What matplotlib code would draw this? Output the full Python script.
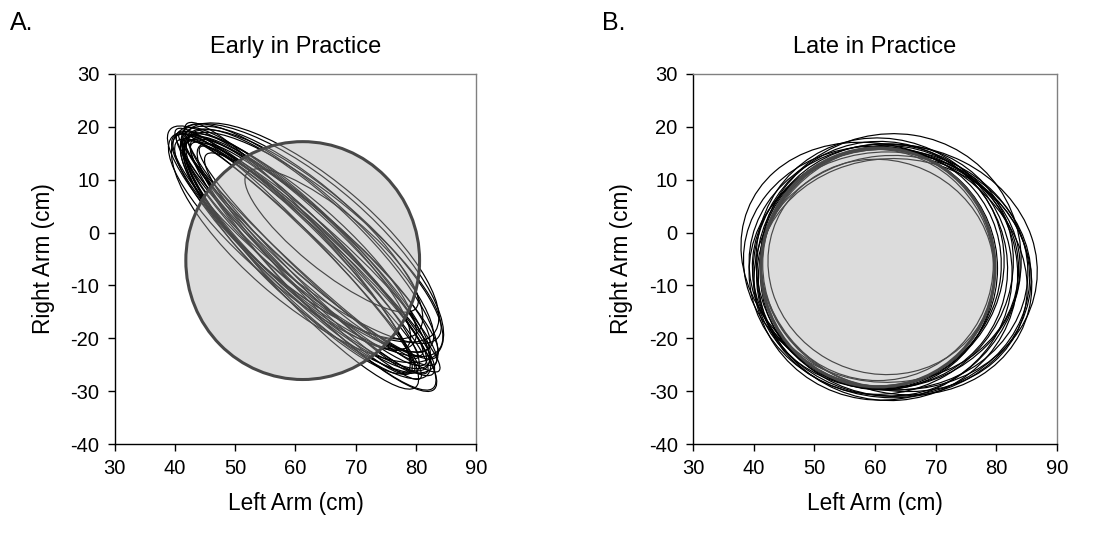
import matplotlib
matplotlib.use("Agg")
import matplotlib.pyplot as plt
from matplotlib.patches import Ellipse

plt.rcParams['font.family'] = ['Liberation Sans', 'DejaVu Sans']
plt.rcParams['axes.unicode_minus'] = False

# Target circles: (center x, center y, half-width, half-height)
target_A = (61.2, -5.3, 19.4, 22.5)
target_B = (60.5, -6.6, 19.3, 22.6)

# Movement loops: center x, center y, half-width, half-height, angle (deg)
loops_A_cx = [61, 62, 60, 63, 61, 62.5, 60.5, 61, 63, 59.5, 63, 60, 64, 62, 61, 66, 60.5, 62.5, 61.5, 63, 61, 62, 64, 61, 62.5, 59.5, 63.5, 61, 60.5, 62]
loops_A_cy = [-3, -1, -4, -2, -5, 0, -3, -4, -1, -4.5, -4, -2, -6, -2, -6, -1.5, -2.5, -3.5, -3, -6, 0, -4.5, -5, -2, -2, -1.5, -6.5, -3.5, -3, -4]
loops_A_a = [30, 29, 30, 29, 30, 28, 31, 29, 28, 29, 29, 27, 28, 30, 30, 19, 29, 30, 28, 31, 27, 30, 29, 29, 30, 28, 30, 31, 30, 29]
loops_A_b = [5, 8, 6, 9, 4, 10, 7, 3.5, 8, 6, 5, 7, 5, 11, 6, 5.5, 3, 9, 4, 6, 9, 7.5, 4, 6.5, 5.5, 8, 6, 4.5, 5, 7]
loops_A_ang = [-47, -46, -48, -45, -49, -44, -47, -50, -43, -49, -46, -47, -48, -45, -51, -43, -47, -48, -46, -50, -45, -49, -47, -44, -46, -45, -50, -48, -52, -47]

loops_B_cx = [61.5, 63, 62.5, 63.5, 61, 62, 62.5, 61.5, 63, 62, 60.7, 61, 60.5, 61.2, 60.5, 61, 62, 61.5, 61.8]
loops_B_cy = [-6.5, -6.5, -7, -7.5, -6, -6.5, -8, -6.5, -8.5, -7.5, -6.8, -6.5, -7, -6.5, -6, -6.5, -7.5, -6, -7]
loops_B_hw = [25.5, 24, 23, 24, 23, 22, 23.5, 21, 22.5, 21.5, 19.5, 19.8, 19.2, 20, 19, 18.5, 21.5, 20.3, 20.8]
loops_B_hh = [21.5, 23, 22.5, 21.5, 22, 25.3, 23, 24.5, 22.5, 24.3, 22.8, 22.5, 22.8, 23, 22, 20.5, 22.5, 23.3, 23.8]
loops_B_ang = [-45, -30, -50, -55, -35, -10, -45, 10, -20, 5, 0, -5, 5, -10, 0, 15, -40, 8, -15]

x_ticks = [30, 40, 50, 60, 70, 80, 90]
y_ticks = [-40, -30, -20, -10, 0, 10, 20, 30]
titles = ["Early in Practice", "Late in Practice"]
panel_labels = ["A.", "B."]

fig = plt.figure(figsize=(10.97, 5.38), dpi=100)
ax_pos = [[0.1046, 0.1747, 0.3295, 0.6878], [0.6317, 0.1747, 0.3318, 0.6878]]
label_pos = [(0.009, 0.944), (0.549, 0.944)]


def draw_panel(ax, target, cx, cy, w, h, ang, title):
    ax.set_xlim(30, 90)
    ax.set_ylim(-40, 30)
    ax.set_xticks(x_ticks)
    ax.set_yticks(y_ticks)
    ax.tick_params(direction='out', length=5, width=1, labelsize=14.5, pad=6)
    for s in ['left', 'bottom']:
        ax.spines[s].set_color('black')
        ax.spines[s].set_linewidth(1.0)
    for s in ['top', 'right']:
        ax.spines[s].set_color('#808080')
        ax.spines[s].set_linewidth(1.0)
    ax.set_xlabel("Left Arm (cm)", fontsize=16.3, labelpad=10)
    ax.set_ylabel("Right Arm (cm)", fontsize=16.3, labelpad=11)
    ax.set_title(title, fontsize=17, pad=15)

    tcx, tcy, thw, thh = target
    # black loops
    for i in range(len(cx)):
        e = Ellipse((cx[i], cy[i]), 2 * w[i], 2 * h[i], angle=ang[i], fill=False,
                    edgecolor='black', linewidth=0.85, zorder=1)
        ax.add_patch(e)
    # target fill
    fillc = Ellipse((tcx, tcy), 2 * thw, 2 * thh, facecolor='#dcdcdc', edgecolor='none', zorder=2)
    ax.add_patch(fillc)
    # gray loops within target
    for i in range(len(cx)):
        e = Ellipse((cx[i], cy[i]), 2 * w[i], 2 * h[i], angle=ang[i], fill=False,
                    edgecolor='#484848', linewidth=0.85, zorder=3)
        ax.add_patch(e)
        e.set_clip_path(fillc)
    edge = Ellipse((tcx, tcy), 2 * thw, 2 * thh, fill=False, edgecolor='#484848', linewidth=2.2, zorder=4)
    ax.add_patch(edge)


axA = fig.add_axes(ax_pos[0])
draw_panel(axA, target_A, loops_A_cx, loops_A_cy, loops_A_a, loops_A_b, loops_A_ang, titles[0])
axB = fig.add_axes(ax_pos[1])
draw_panel(axB, target_B, loops_B_cx, loops_B_cy, loops_B_hw, loops_B_hh, loops_B_ang, titles[1])

for (lx, ly), t in zip(label_pos, panel_labels):
    fig.text(lx, ly, t, fontsize=18, ha='left', va='baseline')

fig.savefig("out.png", dpi=100)
